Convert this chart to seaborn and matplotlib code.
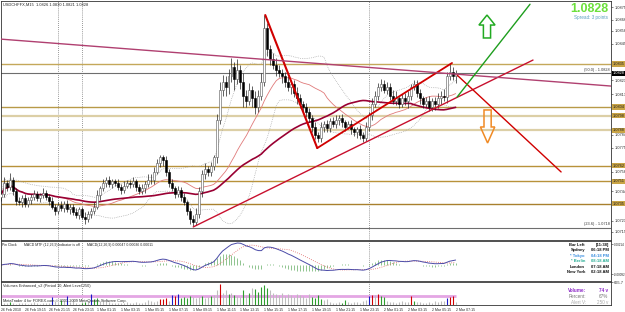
import numpy as np
import pandas as pd
import matplotlib
matplotlib.use('Agg')
import matplotlib.pyplot as plt
from matplotlib.patches import Polygon
import seaborn as sns

# USDCHF M15, prices in pips above 1.0700, one value per bar (26 Feb 17:15 .. 2 Mar 07:15)
closes = [42, 50, 47, 52, 44, 37, 36, 39, 35, 38,
          40, 42, 39, 41, 43, 40, 37, 33, 30, 34,
          32, 35, 31, 33, 29, 27, 31, 26, 24, 28,
          30, 33, 41, 46, 50, 52, 49, 51, 50, 47,
          45, 48, 50, 49, 51, 47, 44, 46, 49, 52,
          52, 58, 64, 68, 66, 58, 50, 46, 42, 45,
          40, 36, 30, 24, 22, 28, 44, 56, 60, 58,
          62, 68, 95, 116, 122, 118, 126, 132, 124, 130,
          122, 112, 108, 116, 110, 104, 112, 122, 160, 145,
          138, 134, 130, 128, 126, 122, 118, 120, 114, 110,
          106, 104, 100, 96, 90, 84, 82, 90, 92, 89,
          94, 92, 95, 96, 93, 90, 92, 88, 86, 88,
          84, 82, 90, 98, 106, 112, 118, 120, 116, 118,
          112, 108, 110, 106, 110, 108, 112, 118, 120, 114,
          110, 106, 108, 104, 108, 106, 110, 112, 111, 126,
          129, 126, 128]
upper_wick = [3, 4, 2, 5, 2, 2, 3, 2, 3, 2,
              2, 3, 2, 2, 3, 2, 2, 3, 2, 2,
              3, 2, 3, 2, 2, 3, 2, 2, 3, 2,
              2, 3, 4, 2, 3, 2, 3, 2, 2, 3,
              2, 3, 2, 2, 3, 2, 2, 3, 2, 4,
              4, 3, 3, 2, 2, 3, 2, 3, 2, 3,
              2, 3, 2, 2, 3, 4, 3, 3, 4, 2,
              3, 2, 4, 6, 5, 4, 5, 7, 4, 8,
              4, 6, 4, 5, 3, 5, 4, 6, 9, 4,
              3, 4, 5, 4, 3, 3, 4, 3, 3, 4,
              3, 2, 3, 3, 2, 3, 2, 3, 2, 3,
              2, 3, 3, 2, 3, 2, 2, 3, 2, 2,
              3, 2, 3, 2, 4, 3, 3, 4, 3, 4,
              3, 4, 5, 2, 3, 4, 3, 2, 3, 3,
              3, 2, 3, 4, 2, 3, 4, 3, 5, 3,
              6, 3, 2]
lower_wick = [3, 2, 3, 2, 3, 3, 2, 3, 2, 2,
              3, 2, 2, 3, 2, 2, 3, 2, 3, 2,
              2, 3, 2, 3, 2, 2, 3, 2, 3, 2,
              3, 2, 2, 3, 2, 3, 2, 3, 2, 2,
              3, 2, 2, 3, 2, 3, 2, 2, 3, 2,
              3, 3, 2, 3, 4, 3, 3, 2, 3, 2,
              3, 2, 3, 3, 3, 2, 3, 4, 3, 3,
              3, 3, 4, 3, 4, 6, 5, 4, 8, 4,
              5, 8, 4, 3, 6, 5, 4, 3, 3, 5,
              4, 3, 4, 3, 5, 4, 3, 5, 3, 4,
              3, 4, 3, 3, 4, 3, 3, 3, 4, 3,
              3, 2, 3, 4, 3, 3, 2, 3, 3, 4,
              3, 3, 2, 3, 3, 2, 3, 3, 2, 3,
              3, 2, 3, 3, 2, 3, 5, 3, 2, 3,
              4, 3, 2, 3, 3, 4, 3, 4, 3, 4,
              3, 3, 5]
first_open = 40

volumes = [40, 60, 50, 90, 50, 40, 70, 50, 60, 40,
           50, 80, 50, 40, 60, 50, 70, 230, 120, 60,
           150, 110, 260, 100, 160, 60, 40, 70, 80, 120,
           330, 160, 190, 120, 160, 130, 80, 50, 70, 60,
           70, 60, 90, 50, 70, 80, 60, 70, 90, 140,
           120, 80, 110, 170, 180, 190, 130, 300, 260, 330,
           200, 220, 190, 260, 220, 200, 240, 270, 200, 230,
           260, 290, 420, 612, 350, 420, 310, 360, 280, 260,
           240, 420, 290, 350, 480, 450, 390, 520, 580, 480,
           420, 360, 310, 290, 350, 260, 310, 280, 240, 330,
           290, 260, 210, 320, 240, 210, 280, 180, 150, 170,
           80, 70, 60, 90, 70, 140, 80, 60, 80, 100,
           70, 110, 140, 250, 280, 300, 320, 250, 240, 120,
           100, 80, 70, 90, 110, 100, 90, 260, 120, 80,
           80, 70, 60, 90, 70, 120, 100, 110, 130, 200,
           230, 260, 74]
blue_bars = [17, 22, 30, 57, 59, 123, 149]
red_bars = [53, 54, 55, 58, 73, 124, 126, 137, 150, 151]
green_bars = [3, 20, 27, 28, 31, 32, 60, 61, 62, 63, 67, 70, 76, 78, 81, 83, 85, 86,
              87, 88, 89, 104, 105, 106, 107, 114, 115, 127, 128, 138]
alert_level = 250
vol_top = 665.7

time_labels = ['26 Feb 2010', '26 Feb 19:15', '26 Feb 21:15', '26 Feb 23:15',
               '1 Mar 01:15', '1 Mar 03:15', '1 Mar 05:15', '1 Mar 07:15',
               '1 Mar 09:15', '1 Mar 11:15', '1 Mar 13:15', '1 Mar 15:15',
               '1 Mar 17:15', '1 Mar 19:15', '1 Mar 21:15', '1 Mar 23:15',
               '2 Mar 01:15', '2 Mar 03:15', '2 Mar 05:15', '2 Mar 07:15']
separators = [19, 27, 123]

levels = [134.5, 103.9, 97.8, 87.5, 62.0, 51.0, 35.0]
level_colors = ['#C4A85A', '#B89A48', '#DCCFA6', '#DCCFA6', '#B8923A', '#B8923A', '#A8802E']
level_widths = [1.0, 1.0, 1.6, 1.6, 1.0, 1.0, 1.0]
fib_levels = [128.0, 18.0]
fib_names = ['(50.0) - 1.0828', '(23.6) - 1.0718']
price_ticks = [175, 166, 158, 149, 123, 113, 84, 75, 58, 44, 23, 15]
last_price = 128

# hand drawn objects: (bar0, pips0, bar1, pips1, colour, width)
trend_lines = [
    (64.2, 18.6, 177.9, 137.3, '#C8102E', 1.0),
    (88.3, 169.3, 105.7, 74.7, '#D00000', 1.5),
    (105.7, 74.7, 150.8, 135.2, '#D00000', 1.3),
    (152.5, 126.6, 187.3, 57.7, '#D00000', 1.0),
    (-0.3, 152.2, 204.0, 118.8, '#B04070', 1.0),
    (152.5, 111.0, 176.9, 177.0, '#1E9E1E', 1.0),
]
# arrows: centre bar, tip, head base, tail
up_arrow = (162.5, 169.3, 162.2, 153.0)
down_arrow = (162.7, 78.3, 89.7, 101.8)

df = pd.DataFrame({'bar': np.arange(len(closes)), 'close': closes,
                   'uw': upper_wick, 'lw': lower_wick, 'volume': volumes})
df['open'] = df['close'].shift(1).fillna(first_open)
df['high'] = df[['open', 'close']].max(axis=1) + df['uw']
df['low'] = df[['open', 'close']].min(axis=1) - df['lw']
df['sma50'] = df['close'].rolling(50, min_periods=1).mean()
df['sma21'] = df['close'].rolling(21, min_periods=1).mean()
sd = df['close'].rolling(21, min_periods=2).std().fillna(0)
df['bb_up'] = df['sma21'] + 1.2 * sd
df['bb_dn'] = df['sma21'] - 1.2 * sd
ema12 = df['close'].ewm(span=12, adjust=False).mean()
ema26 = df['close'].ewm(span=26, adjust=False).mean()
df['macd'] = (ema12 - ema26) / 10000
df['signal'] = df['macd'].rolling(9, min_periods=1).mean()
df['hist'] = df['macd'] - df['signal']

sns.set_style('white')
plt.rcParams['font.family'] = ['Liberation Sans', 'DejaVu Sans']

W, H = 625, 312
fig = plt.figure(figsize=(W / 100, H / 100), dpi=100)


def rect(x0, y0, x1, y1):
    return [x0 / W, 1 - y1 / H, (x1 - x0) / W, (y1 - y0) / H]


def ftext(x, y, s, **kw):
    fig.text(x / W, 1 - y / H, s, **kw)


ax = fig.add_axes(rect(0.5, 1, 611, 240))
ax_m = fig.add_axes(rect(0.5, 241, 611, 281))
ax_v = fig.add_axes(rect(0.5, 282, 611, 305))
xmin, xmax = -0.3, 204.0

for a in (ax, ax_m, ax_v):
    a.set_xlim(xmin, xmax)
    for s in a.spines.values():
        s.set_color('#333333')
        s.set_linewidth(0.6)
    for b in separators:
        a.axvline(b, color='#777777', ls=(0, (1, 1.5)), lw=0.6, zorder=1)
    a.yaxis.tick_right()
    a.tick_params(axis='y', labelsize=2.8, length=1.5, width=0.4, pad=0.8)

# ---- price panel
ax.set_ylim(9.3, 179.3)
for lv, c, w in zip(levels, level_colors, level_widths):
    ax.axhline(lv, color=c, lw=w, zorder=1)
for lv in fib_levels:
    ax.axhline(lv, color='#6E6E6E', lw=0.8, zorder=1)

sns.lineplot(x=df['bar'], y=df['bb_up'], ax=ax, color='#999999', lw=0.5, linestyle=':')
sns.lineplot(x=df['bar'], y=df['bb_dn'], ax=ax, color='#999999', lw=0.5, linestyle=':')
sns.lineplot(x=df['bar'], y=df['sma21'], ax=ax, color='#E07A7A', lw=0.6)
sns.lineplot(x=df['bar'], y=df['sma50'], ax=ax, color='#990033', lw=1.2)

ax.vlines(df['bar'], df['low'], df['high'], color='#222222', lw=0.5, zorder=3)
up = df['close'] >= df['open']
ax.bar(df['bar'][up], (df['close'] - df['open'])[up].clip(lower=0.3), bottom=df['open'][up],
       width=0.66, color='white', edgecolor='#555555', lw=0.4, zorder=4)
ax.bar(df['bar'][~up], (df['open'] - df['close'])[~up], bottom=df['close'][~up],
       width=0.66, color='black', edgecolor='black', lw=0.4, zorder=4)

for x0, y0, x1, y1, c, w in trend_lines:
    ax.plot([x0, x1], [y0, y1], color=c, lw=w, zorder=5, solid_capstyle='round')

cx, tip, base, tail = up_arrow
ax.add_patch(Polygon([(cx, tip), (cx + 2.7, base), (cx + 1.2, base), (cx + 1.2, tail),
                      (cx - 1.2, tail), (cx - 1.2, base), (cx - 2.7, base)],
                     closed=True, fill=False, ec='#22AA22', lw=1.1, zorder=6))
cx, tip, base, tail = down_arrow
ax.add_patch(Polygon([(cx, tip), (cx + 2.4, base), (cx + 1.2, base), (cx + 1.2, tail),
                      (cx - 1.2, tail), (cx - 1.2, base), (cx - 2.4, base)],
                     closed=True, fill=False, ec='#F08A24', lw=1.1, zorder=6))

ax.set_xticks([])
ax.set_yticks(price_ticks)
ax.set_yticklabels([f'{1.07 + p / 10000:.4f}' for p in price_ticks])
ax.set_xlabel('')
ax.set_ylabel('')

ytr = ax.get_yaxis_transform()
for lv, c in zip(levels, level_colors):
    ax.text(1.002, lv, f'{1.07 + lv / 10000:.4f}', transform=ytr, fontsize=2.8, va='center',
            ha='left', color='#222222', bbox=dict(facecolor='#C9A445', edgecolor='none', pad=0.4),
            clip_on=False)
ax.text(1.002, last_price, f'{1.07 + last_price / 10000:.4f}', transform=ytr, fontsize=2.8,
        va='center', ha='left', color='white',
        bbox=dict(facecolor='black', edgecolor='none', pad=0.4), clip_on=False)
for lv, name in zip(fib_levels, fib_names):
    ax.text(203.5, lv + 1.0, name, fontsize=2.8, ha='right', va='bottom', color='#333333')

ftext(3, 5, 'USDCHFFX,M15  1.0826 1.0830 1.0821 1.0828', fontsize=2.9, va='center')
ftext(608, 9, f'{1.07 + last_price / 10000:.4f}', fontsize=9, fontweight='bold',
      color='#6CE03C', ha='right', va='center')
ftext(608, 18, 'Spread: 3 points', fontsize=3.3, color='#5A9FC0', ha='right', va='center')

# ---- MACD panel
mx = df['macd'].max()
top_v, bot_v = mx * 24 / 22, -mx * 16 / 22
ax_m.set_ylim(bot_v, top_v)
ax_m.vlines(df['bar'], 0, df['hist'], color='#8FC48F', lw=0.7, zorder=2)
sns.lineplot(x=df['bar'], y=df['signal'], ax=ax_m, color='#E06666', lw=0.6, linestyle=':')
sns.lineplot(x=df['bar'], y=df['macd'], ax=ax_m, color='#4B4BA8', lw=0.7)
ax_m.set_xticks([])
macd_ticks = [top_v - (244 - 241) / 40 * (top_v - bot_v), top_v - (274 - 241) / 40 * (top_v - bot_v)]
ax_m.set_yticks(macd_ticks)
ax_m.set_yticklabels([f'{v:.5f}' for v in macd_ticks])
ax_m.tick_params(axis='y', labelsize=2.2, pad=0.5)
ax_m.set_xlabel('')
ax_m.set_ylabel('')

ftext(2, 245, 'Pin Clock', fontsize=2.5, va='center')
ftext(24, 245, 'MACD MTF (12,26,9)', fontsize=2.5, va='center')
ftext(58, 245, 'Indicator is off', fontsize=2.5, va='center')
ftext(87, 245, 'MACD(12,26,9) 0.00047 0.00036 0.00011', fontsize=2.5, va='center')

clock = [('Bar Left', '[11:38]', '#111111'), ('Sydney', '06:18 PM', '#111111'),
         ('* Tokyo', '04:18 PM', '#3B8FE0'), ('* Berlin', '08:18 AM', '#2AAE96'),
         ('London', '07:18 AM', '#111111'), ('New York', '02:18 AM', '#111111')]
for k, (city, tm, c) in enumerate(clock):
    yy = 245 + k * 5.4
    ftext(585, yy, city, fontsize=3.0, fontweight='bold', color=c, ha='right', va='center')
    ftext(609, yy, tm, fontsize=3.0, fontweight='bold', color=c, ha='right', va='center')

# ---- volume panel
vcol = ['#BDBDBD'] * len(volumes)
for i in green_bars:
    vcol[i] = '#2E9E2E'
for i in red_bars:
    vcol[i] = '#D00000'
for i in blue_bars:
    vcol[i] = '#1A1AC8'
ax_v.set_ylim(0, vol_top)
ax_v.hlines(alert_level, df['bar'].min(), df['bar'].max(), color='#E4A6E4', lw=2.0, zorder=1)
ax_v.vlines(df['bar'], 0, df['volume'], colors=vcol, lw=0.8, zorder=2)
ax_v.set_yticks([vol_top])
ax_v.set_yticklabels([f'{vol_top:.1f}'])
ax_v.set_xticks(np.arange(0, len(closes), 8))
ax_v.set_xticklabels(time_labels, fontsize=2.5, ha='left')
ax_v.tick_params(axis='x', length=1.5, width=0.4, pad=0.6)

ftext(3, 286, 'Volumes Enhanced_v2 (Period 10, Alert Level 250)', fontsize=2.8, va='center')
ftext(3, 301, 'MetaTrader 4 for FOREX.com \u00a9 2001-2009 MetaQuotes Software Corp.',
      fontsize=2.8, va='center')
ftext(586, 291, 'Volume:', fontsize=3.3, fontweight='bold', color='#8E2BC8', ha='right', va='center')
ftext(608, 291, f'{volumes[-1]} v', fontsize=3.3, fontweight='bold', color='#8E2BC8', ha='right', va='center')
ftext(586, 297, 'Percent:', fontsize=3.3, color='#777777', ha='right', va='center')
ftext(608, 297, '67%', fontsize=3.3, color='#777777', ha='right', va='center')
ftext(586, 302.5, 'Alert V:', fontsize=3.3, color='#AAAAAA', ha='right', va='center')
ftext(608, 302.5, f'{alert_level} v', fontsize=3.3, color='#AAAAAA', ha='right', va='center')

fig.savefig('out.png', dpi=100)
